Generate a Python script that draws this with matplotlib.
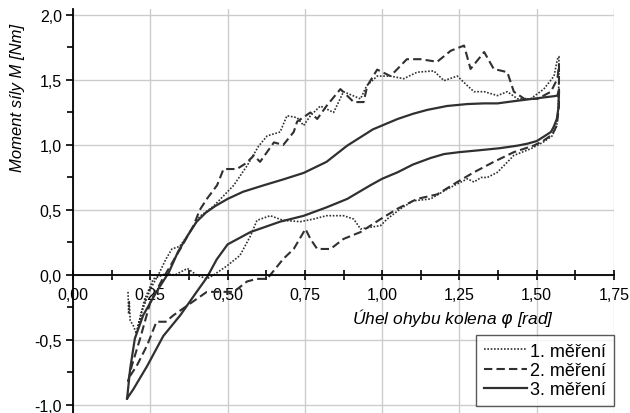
import numpy as np
import matplotlib
matplotlib.use('Agg')
import matplotlib.pyplot as plt
from matplotlib.ticker import FuncFormatter, MultipleLocator

plt.rcParams['font.family'] = ['Liberation Sans', 'DejaVu Sans']

# 1. mereni (dotted)
x1 = [0.178, 0.180, 0.182, 0.185, 0.195, 0.205, 0.22, 0.25, 0.28, 0.30, 0.32, 0.345,
      0.37, 0.41, 0.455, 0.52, 0.563, 0.60, 0.628, 0.67, 0.692, 0.725, 0.746, 0.768,
      0.80, 0.843, 0.875, 0.93, 0.95, 0.984, 1.027, 1.07, 1.113, 1.167, 1.20, 1.243,
      1.276, 1.297, 1.33, 1.373, 1.405, 1.438, 1.48, 1.523, 1.556, 1.567, 1.572,
      1.572, 1.570, 1.565, 1.55, 1.52, 1.48, 1.426, 1.373, 1.34, 1.32, 1.297, 1.276,
      1.21, 1.157, 1.10, 1.06, 1.016, 0.995, 0.93, 0.908, 0.875, 0.82, 0.778, 0.735,
      0.68, 0.638, 0.595, 0.574, 0.54, 0.498, 0.455, 0.433, 0.40, 0.37, 0.33, 0.30,
      0.26, 0.23, 0.205]
y1 = [-0.13, -0.30, -0.20, -0.35, -0.39, -0.45, -0.30, -0.11, 0.02, 0.12, 0.20, 0.22,
      0.30, 0.45, 0.53, 0.69, 0.84, 0.99, 1.07, 1.10, 1.225, 1.21, 1.15, 1.225,
      1.30, 1.25, 1.41, 1.355, 1.456, 1.53, 1.53, 1.51, 1.56, 1.57, 1.495, 1.53,
      1.456, 1.41, 1.41, 1.38, 1.41, 1.355, 1.355, 1.43, 1.53, 1.66, 1.68,
      1.55, 1.30, 1.15, 1.07, 1.02, 0.97, 0.92, 0.79, 0.75, 0.75, 0.715, 0.74,
      0.66, 0.585, 0.57, 0.51, 0.43, 0.38, 0.354, 0.43, 0.456, 0.456, 0.43, 0.41,
      0.42, 0.456, 0.42, 0.30, 0.15, 0.07, 0.00, -0.03, 0.00, 0.05, 0.00, 0.01,
      -0.03, -0.20, -0.45]

# 2. mereni (dashed)
x2 = [0.178, 0.19, 0.217, 0.25, 0.29, 0.31, 0.347, 0.39, 0.41, 0.433, 0.466, 0.487,
      0.53, 0.56, 0.585, 0.605, 0.65, 0.68, 0.714, 0.725, 0.768, 0.79, 0.82, 0.865,
      0.908, 0.94, 0.952, 0.984, 1.027, 1.08, 1.124, 1.178, 1.222, 1.265, 1.286, 1.33,
      1.361, 1.405, 1.426, 1.46, 1.503, 1.546, 1.567, 1.572,
      1.572, 1.565, 1.55, 1.52, 1.49, 1.426, 1.361, 1.297, 1.243, 1.178, 1.113, 1.05,
      0.995, 0.93, 0.875, 0.833, 0.79, 0.768, 0.752, 0.714, 0.68, 0.628, 0.595, 0.563,
      0.52, 0.47, 0.433, 0.40, 0.325, 0.30, 0.27, 0.24, 0.206, 0.185, 0.178]
y2 = [-0.82, -0.70, -0.49, -0.21, -0.03, 0.05, 0.20, 0.38, 0.50, 0.585, 0.69, 0.815,
      0.815, 0.86, 0.92, 0.87, 1.02, 1.00, 1.10, 1.18, 1.25, 1.20, 1.30, 1.43,
      1.33, 1.33, 1.456, 1.58, 1.53, 1.66, 1.66, 1.64, 1.725, 1.765, 1.585, 1.715,
      1.585, 1.56, 1.41, 1.355, 1.355, 1.41, 1.51, 1.62,
      1.30, 1.15, 1.08, 1.03, 0.995, 0.945, 0.87, 0.79, 0.715, 0.62, 0.585, 0.51,
      0.43, 0.33, 0.277, 0.20, 0.20, 0.277, 0.354, 0.20, 0.123, -0.03, -0.03, -0.05,
      -0.13, -0.13, -0.13, -0.185, -0.31, -0.36, -0.36, -0.54, -0.70, -0.775, -0.82]

# 3. mereni (solid)
x3 = [0.175, 0.185, 0.20, 0.227, 0.27, 0.31, 0.34, 0.37, 0.40, 0.43, 0.46, 0.50,
      0.55, 0.617, 0.68, 0.746, 0.82, 0.887, 0.97, 1.05, 1.10, 1.146, 1.21, 1.276,
      1.33, 1.373, 1.42, 1.47, 1.52, 1.555, 1.567, 1.572,
      1.572, 1.570, 1.565, 1.555, 1.546, 1.52, 1.50, 1.47, 1.438, 1.38, 1.308, 1.25,
      1.20, 1.157, 1.10, 1.05, 1.00, 0.962, 0.887, 0.82, 0.746, 0.67, 0.574, 0.50,
      0.465, 0.433, 0.40, 0.347, 0.292, 0.24, 0.195, 0.175]
y3 = [-0.95, -0.72, -0.49, -0.31, -0.13, 0.02, 0.18, 0.30, 0.41, 0.48, 0.53, 0.585,
      0.64, 0.69, 0.735, 0.785, 0.87, 0.995, 1.12, 1.20, 1.24, 1.27, 1.30, 1.315,
      1.32, 1.32, 1.335, 1.35, 1.365, 1.375, 1.38, 1.42,
      1.40, 1.28, 1.20, 1.14, 1.10, 1.06, 1.03, 1.01, 0.995, 0.975, 0.958, 0.945,
      0.93, 0.90, 0.85, 0.79, 0.74, 0.69, 0.585, 0.52, 0.455, 0.41, 0.33, 0.235,
      0.12, -0.02, -0.13, -0.31, -0.47, -0.70, -0.88, -0.95]

labels = ['1. měření', '2. měření', '3. měření']

fig = plt.figure(figsize=(6.3, 4.14), dpi=100)
ax = fig.add_axes([73 / 630, 0.0, 541 / 630, 404.5 / 414])

col = '#303030'
ax.plot(x1, y1, color=col, linestyle=(0, (1, 1)), linewidth=1.2, label=labels[0])
ax.plot(x2, y2, color=col, linestyle=(0, (4, 2)), linewidth=1.5, label=labels[1])
ax.plot(x3, y3, color=col, linestyle='-', linewidth=1.6, label=labels[2])

ax.set_xlim(0, 1.75)
ax.set_ylim(-1.062, 2.05)

ax.spines['top'].set_visible(False)
ax.spines['right'].set_visible(False)
ax.spines['bottom'].set_position(('data', 0))
ax.spines['left'].set_linewidth(1.3)
ax.spines['bottom'].set_linewidth(1.3)

ax.xaxis.set_major_locator(MultipleLocator(0.25))
ax.xaxis.set_minor_locator(MultipleLocator(0.125))
ax.yaxis.set_major_locator(MultipleLocator(0.5))
ax.yaxis.set_minor_locator(MultipleLocator(0.25))
ax.xaxis.set_major_formatter(FuncFormatter(lambda v, p: '{:.2f}'.format(v).replace('.', ',')))
ax.yaxis.set_major_formatter(FuncFormatter(lambda v, p: '{:.1f}'.format(v).replace('.', ',')))

ax.tick_params(axis='x', which='both', direction='inout', length=7, width=1.2, labelsize=11.5, pad=5)
ax.tick_params(axis='y', which='major', direction='out', length=5, width=1.2, labelsize=11.5, pad=3)
ax.tick_params(axis='y', which='minor', direction='out', length=4, width=1.2)

ax.grid(True, which='major', color='#cccccc', linewidth=1)
ax.set_axisbelow(True)

ax.text(1.231, -0.33, 'Úhel ohybu kolena $\\varphi$ [rad]', fontsize=12.5, style='italic',
        ha='center', va='center')
fig.text(18 / 630, 1 - 97.5 / 414, 'Moment síly M [Nm]', fontsize=12, style='italic',
         rotation=90, ha='center', va='center')

leg = ax.legend(loc='lower right', bbox_to_anchor=(1.0, 0.017), fontsize=13,
                frameon=True, fancybox=False, handlelength=2.4, borderpad=0.45,
                labelspacing=0.12, handletextpad=0.15, borderaxespad=0)
leg.get_frame().set_edgecolor('#303030')
leg.get_frame().set_linewidth(1)

fig.savefig('out.png', dpi=100)
